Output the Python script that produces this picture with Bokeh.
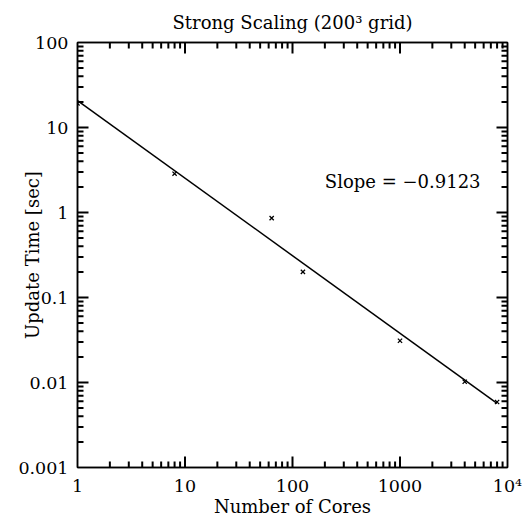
import math
import numpy as np
from bokeh.plotting import figure
from bokeh.models import FixedTicker, LogAxis, Label, CustomJSTickFormatter
from bokeh.embed import file_html
from bokeh.resources import INLINE

# ---- data ----
cores = [1, 8, 64, 125, 1000, 4000, 8000]
update_time = [19.2, 2.86, 0.86, 0.20, 0.031, 0.0102, 0.0059]
slope = -0.9123

x_ticks = [1, 10, 100, 1000, 10000]
x_tick_labels = ["1", "10", "100", "1000", "10\u2074"]
y_ticks = [0.001, 0.01, 0.1, 1, 10, 100]
y_tick_labels = ["0.001", "0.01", "0.1", "1", "10", "100"]

title_text = "Strong Scaling (200\u00b3 grid)"
x_label = "Number of Cores"
y_label = "Update Time [sec]"
slope_text = "Slope = \u22120.9123"

FONT = "DejaVu Serif"

# fitted line with the quoted slope through the data's centroid (log space)
lx = np.log10(cores)
ly = np.log10(update_time)
intercept = ly.mean() - slope * lx.mean()
fit_x = [min(cores), max(cores)]
fit_y = [10 ** (intercept + slope * np.log10(v)) for v in fit_x]

x_lo, x_hi = x_ticks[0], x_ticks[-1]
y_lo, y_hi = y_ticks[0], y_ticks[-1]

W, H = 527, 519
BL, BR, BT, BB = 77, 20, 39, 50

p = figure(
    x_axis_type="log", y_axis_type="log",
    x_range=(x_lo, x_hi), y_range=(y_lo, y_hi),
    width=W, height=H,
    output_backend="svg", toolbar_location=None,
    min_border_left=BL, min_border_right=BR, min_border_top=BT, min_border_bottom=BB,
    background_fill_color="white", border_fill_color="white",
)
p.grid.visible = False
p.outline_line_color = "black"
p.outline_line_width = 1.5

p.title.text = title_text
p.title.align = "center"
p.title.text_font = FONT
p.title.text_font_size = "18px"
p.title.text_font_style = "normal"
p.title.text_color = "black"
p.title.standoff = 19


def minor_list(ticks):
    out = []
    for t in ticks[:-1]:
        for m in range(2, 10):
            out.append(t * m)
    return out


def fmt(vals, labs):
    return CustomJSTickFormatter(args=dict(vals=vals, labs=labs), code="""
for (let i = 0; i < vals.length; i++) {
  if (Math.abs(Math.log10(tick) - Math.log10(vals[i])) < 1e-6) return labs[i];
}
return "";
""")


x_minor = minor_list(x_ticks)
y_minor = minor_list(y_ticks)
x_ticker = FixedTicker(ticks=x_ticks, minor_ticks=x_minor)
y_ticker = FixedTicker(ticks=y_ticks, minor_ticks=y_minor)


def style(ax, show_labels):
    ax.axis_line_color = "black"
    ax.axis_line_width = 1.5
    ax.major_tick_in = 0
    ax.major_tick_out = 0
    ax.minor_tick_in = 0
    ax.minor_tick_out = 0
    ax.major_label_text_font = FONT
    ax.major_label_text_color = "black"
    ax.axis_label_text_font = FONT
    ax.axis_label_text_font_style = "normal"
    ax.axis_label_text_color = "black"
    if show_labels:
        ax.major_label_text_font_size = "17.5px"
        ax.axis_label_text_font_size = "18px"
    else:
        ax.major_label_text_font_size = "0px"
        ax.major_label_standoff = 0


xa = p.xaxis[0]
xa.ticker = x_ticker
xa.formatter = fmt(x_ticks, x_tick_labels)
xa.axis_label = x_label
style(xa, True)
xa.major_label_standoff = 8
xa.axis_label_standoff = -3

ya = p.yaxis[0]
ya.ticker = y_ticker
ya.formatter = fmt(y_ticks, y_tick_labels)
ya.axis_label = y_label
style(ya, True)
ya.major_label_standoff = 9
ya.axis_label_standoff = -28

top = LogAxis(ticker=x_ticker, formatter=fmt(x_ticks, [""] * len(x_ticks)))
style(top, False)
p.add_layout(top, "above")
right = LogAxis(ticker=y_ticker, formatter=fmt(y_ticks, [""] * len(y_ticks)))
style(right, False)
p.add_layout(right, "right")

# inward tick marks on all four sides: segments starting outside the frame
# (clipped away) and ending a given number of pixels inside it
frame_w = W - BL - BR
frame_h = H - BT - BB - 2
x_dec_px = frame_w / (math.log10(x_hi) - math.log10(x_lo))
y_dec_px = frame_h / (math.log10(y_hi) - math.log10(y_lo))
TICK_W = 2


def ticks_on_x(vals, length):
    f = 10 ** (length / y_dec_px)
    vals = list(vals)
    n = len(vals)
    p.segment(x0=vals, y0=[y_lo / 3] * n, x1=vals, y1=[y_lo * f] * n,
              line_color="black", line_width=TICK_W)
    p.segment(x0=vals, y0=[y_hi * 3] * n, x1=vals, y1=[y_hi / f] * n,
              line_color="black", line_width=TICK_W)


def ticks_on_y(vals, length):
    f = 10 ** (length / x_dec_px)
    vals = list(vals)
    n = len(vals)
    p.segment(x0=[x_lo / 3] * n, y0=vals, x1=[x_lo * f] * n, y1=vals,
              line_color="black", line_width=TICK_W)
    p.segment(x0=[x_hi * 3] * n, y0=vals, x1=[x_hi / f] * n, y1=vals,
              line_color="black", line_width=TICK_W)


ticks_on_x(x_ticks[1:-1], 11)
ticks_on_x(x_minor, 6)
ticks_on_y(y_ticks[1:-1], 11)
ticks_on_y(y_minor, 6)

p.line(fit_x, fit_y, line_color="black", line_width=1.5)
p.scatter(cores, update_time, marker="x", size=6, line_color="black", line_width=1.3)

p.add_layout(Label(x=200, y=2.3, text=slope_text, text_font=FONT,
                   text_font_size="18px", text_color="black",
                   text_baseline="middle", text_align="left"))

open("out.html", "w").write(file_html(p, INLINE))
